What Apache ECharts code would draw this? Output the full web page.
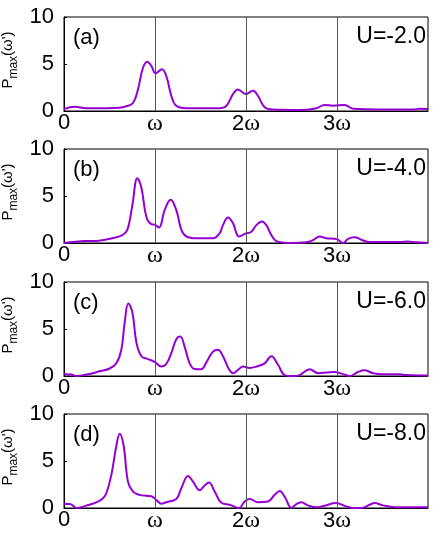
<!DOCTYPE html>
<html>
<head>
<meta charset="utf-8">
<script src="https://cdn.jsdelivr.net/npm/echarts@6/dist/echarts.min.js"></script>
<style>
  html, body { margin: 0; padding: 0; background: #fff; }
  #main { width: 436px; height: 540px; }
</style>
</head>
<body>
<div id="main"></div>
<script>
// x in units of omega, y = P_max(omega')
var xa = [0, 0.117, 0.245, 0.39, 0.61, 0.685, 0.758, 0.813, 0.868, 0.916, 0.96, 1.007, 1.077, 1.125, 1.18, 1.234, 1.344, 1.71, 1.784, 1.857, 1.912, 1.996, 2.077, 2.132, 2.205, 2.297, 2.59, 2.773, 2.864, 2.956, 3.084, 3.176, 3.835, 3.908, 4.0]
var ya = [0.2, 0.45, 0.3, 0.3, 0.35, 0.5, 0.85, 2.3, 4.6, 5.25, 4.8, 4.0, 4.45, 3.7, 1.6, 0.55, 0.3, 0.3, 0.55, 1.8, 2.3, 1.8, 2.15, 1.6, 0.4, 0.15, 0.1, 0.3, 0.65, 0.55, 0.65, 0.25, 0.15, 0.25, 0.2]

var xb = [0, 0.238, 0.385, 0.531, 0.641, 0.696, 0.751, 0.806, 0.85, 0.905, 0.96, 0.996, 1.044, 1.106, 1.172, 1.234, 1.29, 1.344, 1.454, 1.637, 1.711, 1.747, 1.802, 1.857, 1.923, 1.996, 2.059, 2.114, 2.176, 2.223, 2.278, 2.333, 2.48, 2.663, 2.736, 2.81, 2.883, 2.974, 3.011, 3.066, 3.121, 3.194, 3.267, 3.359, 3.689, 3.78, 3.872, 4.0]
var yb = [0, 0.2, 0.25, 0.5, 0.85, 1.4, 4.0, 6.9, 5.9, 2.8, 2.0, 1.95, 1.65, 3.5, 4.6, 3.5, 1.4, 0.7, 0.5, 0.5, 1.05, 1.9, 2.7, 2.1, 0.7, 1.0, 1.2, 1.9, 2.3, 1.9, 0.85, 0.2, 0, 0.07, 0.3, 0.7, 0.5, 0.45, 0.35, 0, 0.45, 0.62, 0.35, 0.1, 0.1, 0.17, 0.07, 0]

var xc = [0, 0.081, 0.136, 0.245, 0.392, 0.502, 0.575, 0.63, 0.667, 0.707, 0.751, 0.795, 0.85, 0.923, 0.996, 1.07, 1.125, 1.18, 1.234, 1.278, 1.326, 1.381, 1.436, 1.509, 1.564, 1.637, 1.692, 1.747, 1.813, 1.857, 1.912, 1.967, 2.04, 2.114, 2.205, 2.278, 2.352, 2.425, 2.516, 2.59, 2.7, 2.791, 2.883, 2.97, 3.066, 3.139, 3.231, 3.3, 3.396, 3.505, 3.689, 3.762, 4.0]
var yc = [0.18, 0.15, 0, 0.15, 0.5, 0.8, 1.35, 2.8, 5.7, 7.7, 6.8, 3.6, 2.1, 1.8, 1.5, 1.0, 1.3, 2.45, 3.9, 4.2, 3.1, 1.35, 0.75, 0.72, 1.45, 2.6, 2.8, 2.1, 0.72, 0.3, 0.65, 1.0, 0.85, 1.0, 1.35, 2.1, 1.2, 0.1, 0, 0.1, 0.72, 0.3, 0.36, 0.43, 0.2, 0, 0.43, 0.6, 0.3, 0.18, 0.18, 0.1, 0.04]

var xd = [0, 0.062, 0.099, 0.136, 0.245, 0.355, 0.429, 0.465, 0.52, 0.575, 0.612, 0.656, 0.703, 0.758, 0.831, 0.905, 0.96, 1.015, 1.07, 1.125, 1.234, 1.289, 1.363, 1.418, 1.49, 1.546, 1.593, 1.656, 1.729, 1.82, 1.923, 1.985, 2.04, 2.132, 2.242, 2.315, 2.37, 2.425, 2.5, 2.553, 2.608, 2.681, 2.773, 2.864, 2.99, 3.103, 3.176, 3.267, 3.359, 3.414, 3.505, 3.652, 4.0]
var yd = [0.42, 0.42, 0.25, 0, 0.25, 0.6, 1.05, 1.55, 3.5, 6.6, 7.9, 6.6, 2.8, 1.75, 1.4, 1.3, 1.25, 0.85, 0.45, 0.62, 0.95, 2.1, 3.4, 2.8, 1.9, 2.4, 2.7, 1.75, 0.55, 0.35, 0, 0.7, 0.97, 0.62, 0.7, 1.4, 1.8, 1.2, 0, 0.42, 0.6, 0.28, 0.07, 0.25, 0.52, 0.17, 0, 0, 0.35, 0.52, 0.28, 0.07, 0.07]

var xTickLabels = ['0', 'ω', '2ω', '3ω', '']
var yTicks = [0, 5, 10]
var panelLabels = ['(a)', '(b)', '(c)', '(d)']
var uLabels = ['U=-2.0', 'U=-4.0', 'U=-6.0', 'U=-8.0']
var panelX = [xa, xb, xc, xd]
var panelY = [ya, yb, yc, yd]

var gridTops = [17, 149, 282, 414]
var gridH = 94
var gridLeft = 64
var gridW = 364
var purple = '#9400D3'
var sans = 'Liberation Sans, Arial, Helvetica, sans-serif'
var serif = 'Liberation Serif, DejaVu Serif, serif'

var chartDom = document.getElementById('main')
var myChart = echarts.init(chartDom, null, { renderer: 'canvas' })

var grids = [], xAxes = [], yAxes = [], series = [], graphics = []

for (let i = 0; i < 4; i++) {
  grids.push({
    left: gridLeft, top: gridTops[i], width: gridW, height: gridH,
    outerBoundsMode: 'none', containLabel: false,
    show: true, borderColor: '#000', borderWidth: 1, backgroundColor: 'transparent'
  })
  xAxes.push({
    gridIndex: i, type: 'value', min: 0, max: 4, interval: 1,
    axisLine: { lineStyle: { color: '#000', width: 1 } },
    axisTick: { show: false },
    splitLine: { show: false },
    axisLabel: {
      margin: 1,
      color: '#000',
      formatter: function (v) {
        var s = xTickLabels[Math.round(v)] || ''
        if (s === '') return ''
        return s.split('').map(function (c) {
          return c === 'ω' ? '{w|ω}' : '{n|' + c + '}'
        }).join('')
      },
      rich: {
        n: { fontFamily: sans, fontSize: 22, color: '#000' },
        w: { fontFamily: serif, fontSize: 24, color: '#000' }
      }
    }
  })
  yAxes.push({
    gridIndex: i, type: 'value', min: 0, max: 10, interval: 5,
    axisLine: { show: true, lineStyle: { color: '#000', width: 1 } },
    axisTick: { show: true, inside: true, length: 3, lineStyle: { color: '#000' } },
    splitLine: { show: false },
    axisLabel: {
      margin: 10, color: '#000', fontFamily: sans, fontSize: 22,
      formatter: function (v) { return yTicks.indexOf(v) >= 0 ? String(v) : '' }
    },
    name: '{p|P}{s|max}{p|(ω\')}',
    nameLocation: 'middle',
    nameRotate: 90,
    nameGap: 44,
    nameMoveOverlap: false,
    nameTextStyle: {
      padding: [0, 0, 0, 8],
      rich: {
        p: { fontFamily: sans, fontSize: 15, color: '#000', padding: [0, 0, 5, 0], verticalAlign: 'bottom' },
        s: { fontFamily: sans, fontSize: 12, color: '#000', verticalAlign: 'bottom' }
      }
    }
  })
  series.push({
    type: 'line',
    xAxisIndex: i, yAxisIndex: i,
    data: panelX[i].map(function (x, k) { return [x, panelY[i][k]] }),
    showSymbol: false,
    smooth: 0.4,
    lineStyle: { color: purple, width: 2 },
    itemStyle: { color: purple },
    z: 3,
    markLine: {
      silent: true, symbol: 'none',
      label: { show: false },
      lineStyle: { color: '#555', width: 1, type: 'solid' },
      data: [{ xAxis: 1 }, { xAxis: 2 }, { xAxis: 3 }]
    }
  })
  graphics.push({
    type: 'text', left: 73, top: gridTops[i] + 10,
    style: { text: panelLabels[i], font: '22px ' + sans, fill: '#000' }
  })
  graphics.push({
    type: 'text', right: 436 - 426, top: gridTops[i] + 8,
    style: { text: uLabels[i], font: '23px ' + sans, fill: '#000' }
  })
}

var option = {
  animation: false,
  backgroundColor: '#fff',
  grid: grids,
  xAxis: xAxes,
  yAxis: yAxes,
  series: series,
  graphic: graphics
}
option && myChart.setOption(option)
</script>
</body>
</html>
